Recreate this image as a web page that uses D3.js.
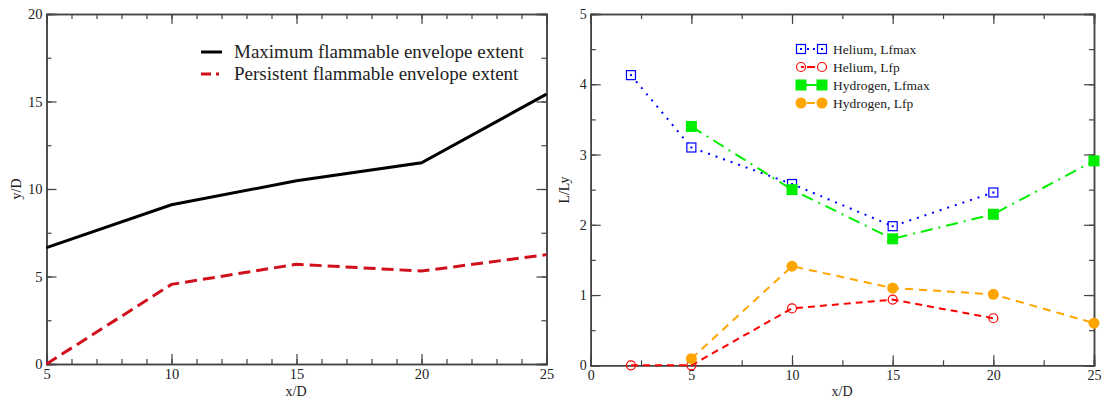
<!DOCTYPE html>
<html>
<head>
<meta charset="utf-8">
<script src="https://cdn.jsdelivr.net/npm/d3@7"></script>
<style>
  body { margin: 0; background: #fff; }
  svg text { font-family: "Liberation Serif", "Times New Roman", serif; fill: #222; }
  .axis path, .axis line { stroke: #444; }
</style>
</head>
<body>
<svg width="1105" height="400"></svg>
<script>
// left panel data
const leftX = [5, 10, 15, 20, 25];
const maxExtent = [6.65, 9.1, 10.47, 11.5, 15.42];
const persistExtent = [0, 4.55, 5.7, 5.31, 6.25];

// right panel data
const heliumX = [2, 5, 10, 15, 20];
const heliumLfmax = [4.13, 3.1, 2.58, 1.98, 2.46];
const heliumLfp = [0, 0, 0.81, 0.935, 0.67];
const hydrogenX = [5, 10, 15, 20, 25];
const hydrogenLfmax = [3.4, 2.5, 1.8, 2.15, 2.91];
const hydrogenLfp = [0.095, 1.41, 1.1, 1.01, 0.6];

const svg = d3.select('svg');

function frame(g, x, y, xMajor, xMinor, yMajor, yMinor, fs) {
  const [x0, x1] = x.range();
  const [y0, y1] = y.range();
  const add = (axis, tr) => g.append('g').attr('class', 'axis')
    .attr('transform', tr).call(axis);
  const fmt = d3.format('d');
  // minor ticks
  add(d3.axisBottom(x).tickValues(xMinor).tickSize(-5).tickFormat(''), `translate(0,${y0})`);
  add(d3.axisTop(x).tickValues(xMinor).tickSize(-5).tickFormat(''), `translate(0,${y1})`);
  add(d3.axisLeft(y).tickValues(yMinor).tickSize(-5).tickFormat(''), `translate(${x0},0)`);
  add(d3.axisRight(y).tickValues(yMinor).tickSize(-5).tickFormat(''), `translate(${x1},0)`);
  // major ticks
  add(d3.axisBottom(x).tickValues(xMajor).tickSize(-10).tickPadding(5).tickFormat(fmt), `translate(0,${y0})`);
  add(d3.axisTop(x).tickValues(xMajor).tickSize(-10).tickFormat(''), `translate(0,${y1})`);
  add(d3.axisLeft(y).tickValues(yMajor).tickSize(-10).tickPadding(4).tickFormat(fmt), `translate(${x0},0)`);
  add(d3.axisRight(y).tickValues(yMajor).tickSize(-10).tickFormat(''), `translate(${x1},0)`);
  g.selectAll('.axis').attr('font-family', '"Liberation Serif", serif').attr('font-size', fs);
  g.selectAll('.axis path').attr('stroke-width', 1.5);
  g.selectAll('.axis line').attr('stroke-width', 1.2);
  g.selectAll('.axis text').attr('fill', '#222');
}

// ---------- left panel ----------
const xL = d3.scaleLinear().domain([5, 25]).range([46.5, 546.5]);
const yL = d3.scaleLinear().domain([0, 20]).range([364, 14]);
const gL = svg.append('g');
frame(gL, xL, yL, [5, 10, 15, 20, 25], d3.range(5, 26, 1), [0, 5, 10, 15, 20], d3.range(0, 20.1, 2.5), 14.5);

const lineL = d3.line().x((d, i) => xL(leftX[i])).y(d => yL(d));
gL.append('path').datum(maxExtent).attr('d', lineL)
  .attr('fill', 'none').attr('stroke', '#000').attr('stroke-width', 3);
gL.append('path').datum(persistExtent).attr('d', lineL)
  .attr('fill', 'none').attr('stroke', '#d0101c').attr('stroke-width', 3)
  .attr('stroke-dasharray', '12,6');

gL.append('text').attr('x', 296).attr('y', 396).attr('text-anchor', 'middle')
  .style('font-size', '14px').text('x/D');
gL.append('text').attr('transform', 'translate(21,189) rotate(-90)').attr('text-anchor', 'middle')
  .style('font-size', '14px').text('y/D');

const legL = [
  { label: 'Maximum flammable envelope extent', color: '#000', dash: null },
  { label: 'Persistent flammable envelope extent', color: '#d0101c', dash: '10,5,3,5' }
];
legL.forEach((d, i) => {
  const yy = 52 + i * 22;
  gL.append('line').attr('x1', 201).attr('x2', 222).attr('y1', yy).attr('y2', yy)
    .attr('stroke', d.color).attr('stroke-width', 3).attr('stroke-dasharray', d.dash);
  gL.append('text').attr('x', 234).attr('y', yy + 6).style('font-size', '19px').text(d.label);
});

// ---------- right panel ----------
const xR = d3.scaleLinear().domain([0, 25]).range([590.7, 1094]);
const yR = d3.scaleLinear().domain([0, 5]).range([365.3, 14]);
const gR = svg.append('g');
frame(gR, xR, yR, [0, 5, 10, 15, 20, 25], d3.range(0, 25.1, 2.5), [0, 1, 2, 3, 4, 5], d3.range(0, 5.01, 0.5), 14);

const series = [
  { name: 'Helium, Lfmax', xs: heliumX, ys: heliumLfmax, color: '#0000ff', dash: '2,6', legDash: '2,4', marker: 'sqOpen' },
  { name: 'Helium, Lfp', xs: heliumX, ys: heliumLfp, color: '#ff0000', dash: '7,5', legDash: '3,3,8,10', marker: 'circOpen' },
  { name: 'Hydrogen, Lfmax', xs: hydrogenX, ys: hydrogenLfmax, color: '#00ee00', dash: '12,6,2,6', legDash: null, marker: 'sqFill' },
  { name: 'Hydrogen, Lfp', xs: hydrogenX, ys: hydrogenLfp, color: '#ffa500', dash: '8,6', legDash: '3,3,8,10', marker: 'circFill' }
];

function marker(g, s, cx, cy) {
  if (s.marker === 'sqOpen') {
    g.append('rect').attr('x', cx - 4.5).attr('y', cy - 4.5).attr('width', 9).attr('height', 9)
      .attr('fill', '#fff').attr('stroke', s.color).attr('stroke-width', 1.2);
    g.append('rect').attr('x', cx - 1).attr('y', cy - 1).attr('width', 2).attr('height', 2).attr('fill', s.color);
  } else if (s.marker === 'circOpen') {
    g.append('circle').attr('cx', cx).attr('cy', cy).attr('r', 4.5)
      .attr('fill', 'none').attr('stroke', s.color).attr('stroke-width', 1.2);
  } else if (s.marker === 'sqFill') {
    g.append('rect').attr('x', cx - 5.5).attr('y', cy - 5.5).attr('width', 11).attr('height', 11)
      .attr('fill', s.color);
  } else {
    g.append('circle').attr('cx', cx).attr('cy', cy).attr('r', 5.5).attr('fill', s.color);
  }
}

series.forEach(s => {
  const line = d3.line().x((d, i) => xR(s.xs[i])).y(d => yR(d));
  gR.append('path').datum(s.ys).attr('d', line)
    .attr('fill', 'none').attr('stroke', s.color).attr('stroke-width', 2)
    .attr('stroke-dasharray', s.dash);
});
series.forEach(s => {
  s.ys.forEach((v, i) => marker(gR, s, xR(s.xs[i]), yR(v)));
});

series.forEach((s, i) => {
  const yy = 49 + i * 18;
  gR.append('line').attr('x1', 801).attr('x2', 822).attr('y1', yy).attr('y2', yy)
    .attr('stroke', s.color).attr('stroke-width', 2).attr('stroke-dasharray', s.legDash);
  marker(gR, s, 801, yy);
  marker(gR, s, 822, yy);
  gR.append('text').attr('x', 833).attr('y', yy + 5).style('font-size', '13.5px').text(s.name);
});

gR.append('text').attr('x', 842).attr('y', 396).attr('text-anchor', 'middle')
  .style('font-size', '14px').text('x/D');
gR.append('text').attr('transform', 'translate(569,190) rotate(-90)').attr('text-anchor', 'middle')
  .style('font-size', '14px').text('L/Ly');
</script>
</body>
</html>
